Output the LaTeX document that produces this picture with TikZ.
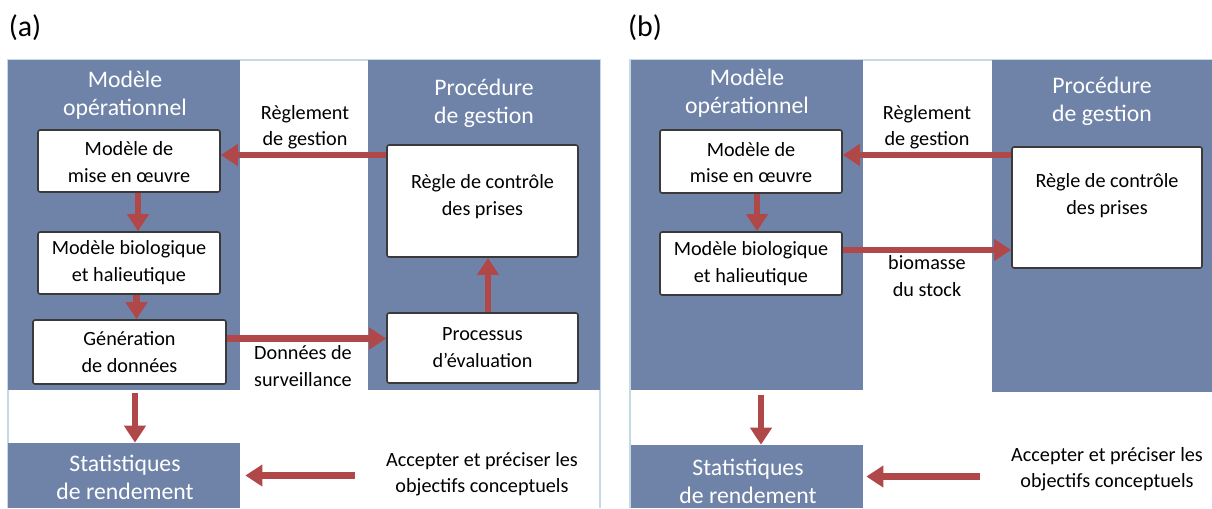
\documentclass[tikz,border=0pt]{standalone}
\usepackage{fontspec}
\setmainfont{Carlito}
\usetikzlibrary{arrows.meta,fit}
\definecolor{panelblue}{HTML}{6F83A8}
\definecolor{arrred}{HTML}{B0484A}
\definecolor{boxline}{HTML}{3A3A3A}
\definecolor{framecol}{HTML}{C6DAE4}
\tikzset{
  bluebox/.style={fill=panelblue, draw=none, inner sep=0pt},
  whitebox/.style={fill=white, draw=boxline, line width=0.9pt, rounded corners=1.2pt, inner sep=0pt},
  frameline/.style={draw=framecol, line width=0.6pt},
  arr/.style={draw=arrred, line width=3.8pt, -{Triangle[length=0.34cm,width=0.42cm]}},
  boxtxt/.style={font=\fontsize{11.5}{15.3}\selectfont, align=center, text=black},
  ttltxt/.style={font=\fontsize{13.5}{16}\selectfont, align=center, text=white},
  lbltxt/.style={font=\fontsize{11.5}{15}\selectfont, align=center, text=black},
  paneltag/.style={font=\fontsize{17}{20}\selectfont, text=black}
}
\begin{document}
\begin{tikzpicture}[x=0.02cm, y=-0.02cm]
\useasboundingbox (0,0) rectangle (1212,508);
% ---------------- panel (a) ----------------
\node[paneltag] (taga) at (25,28) {(a)};
\draw[frameline] (8,508) -- (8,60) -- (600,60) -- (600,508);
\node[bluebox, fit={(8,60)(240,390)}] (moa) {};
\node[bluebox, fit={(368,60)(600,390)}] (pga) {};
\node[bluebox, fit={(8,443)(240,508)}] (sta) {};
\node[whitebox, fit={(38,130)(220,192)}] (mmoa) {};
\node[whitebox, fit={(38,232)(220,294)}] (mba) {};
\node[whitebox, fit={(33,320)(226,384)}] (gena) {};
\node[whitebox, fit={(387,145)(578,257)}] (rca) {};
\node[whitebox, fit={(387,313)(578,383)}] (pea) {};
\node[boxtxt] at ([yshift=-0.02cm]mmoa.center) {Modèle de\\mise en œuvre};
\node[boxtxt] at (mba.center) {Modèle biologique\\et halieutique};
\node[boxtxt] at (gena.center) {Génération\\de données};
\node[boxtxt] at ([yshift=0.08cm]rca.center) {Règle de contrôle\\des prises};
\node[boxtxt] at (pea.center) {Processus\\d’évaluation};
\node[ttltxt] (moat) at (125,95) {Modèle\\opérationnel};
\node[ttltxt] (pgat) at (484,103) {Procédure\\de gestion};
\node[ttltxt] (stat) at (125,477) {Statistiques\\de rendement};
\node[lbltxt] (rga) at (305,127) {Règlement\\de gestion};
\node[lbltxt] (dsa) at (303,366) {Données de\\surveillance};
\node[lbltxt] (acca) at (482,474) {Accepter et préciser les\\objectifs conceptuels};
\draw[arr] (rca.west |- 0,155) -- (mmoa.east |- 0,155);
\draw[arr] ([xshift=0.18cm]mmoa.south) -- ([xshift=0.18cm]mba.north);
\draw[arr] ([xshift=0.15cm]mba.south) -- ([xshift=0.15cm]mba.south |- gena.north);
\draw[arr] ([yshift=0.27cm]gena.east) -- ([yshift=0.27cm]gena.east -| pea.west);
\draw[arr] ([xshift=0.11cm]pea.north) -- ([xshift=0.11cm]rca.south);
\draw[arr] ([yshift=-0.16cm,xshift=0.11cm]gena.south) -- ([xshift=0.11cm]gena.south |- sta.north);
\draw[arr] ([xshift=-0.5cm]acca.west |- sta.east) -- ([xshift=0.1cm]sta.east);
% ---------------- panel (b) ----------------
\node[paneltag] (tagb) at (645,28) {(b)};
\draw[frameline] (630,508) -- (630,60) -- (1212,60);
\node[bluebox, fit={(631,60)(863,390)}] (mob) {};
\node[bluebox, fit={(992,60)(1212,392)}] (pgb) {};
\node[bluebox, fit={(631,445)(863,508)}] (stb) {};
\node[whitebox, fit={(660,130)(842,193)}] (mmob) {};
\node[whitebox, fit={(660,232)(842,295)}] (mbb) {};
\node[whitebox, fit={(1012,147)(1202,268)}] (rcb) {};
\node[boxtxt] at ([yshift=-0.02cm]mmob.center) {Modèle de\\mise en œuvre};
\node[boxtxt] at (mbb.center) {Modèle biologique\\et halieutique};
\node[boxtxt] at ([yshift=0.24cm]rcb.center) {Règle de contrôle\\des prises};
\node[ttltxt] (mobt) at (747,93) {Modèle\\opérationnel};
\node[ttltxt] (pgbt) at (1102,101) {Procédure\\de gestion};
\node[ttltxt] (stbt) at (748,481) {Statistiques\\de rendement};
\node[lbltxt] (rgb) at (927,127) {Règlement\\de gestion};
\node[lbltxt] (bsb) at (927,276) {biomasse\\du stock};
\node[lbltxt] (accb) at (1107,469) {Accepter et préciser les\\objectifs conceptuels};
\draw[arr] (rcb.west |- 0,155) -- (mmob.east |- 0,155);
\draw[arr] ([xshift=0.12cm]mmob.south) -- ([xshift=0.12cm]mbb.north);
\draw[arr] ([yshift=0.27cm]mbb.east) -- ([yshift=0.27cm]mbb.east -| rcb.west);
\draw[arr] ([yshift=-0.1cm,xshift=0.28cm]mob.south) -- ([xshift=0.28cm]stb.north);
\draw[arr] ([xshift=-0.5cm]accb.west |- stb.east) -- ([xshift=0.06cm]stb.east);
\end{tikzpicture}
\end{document}
